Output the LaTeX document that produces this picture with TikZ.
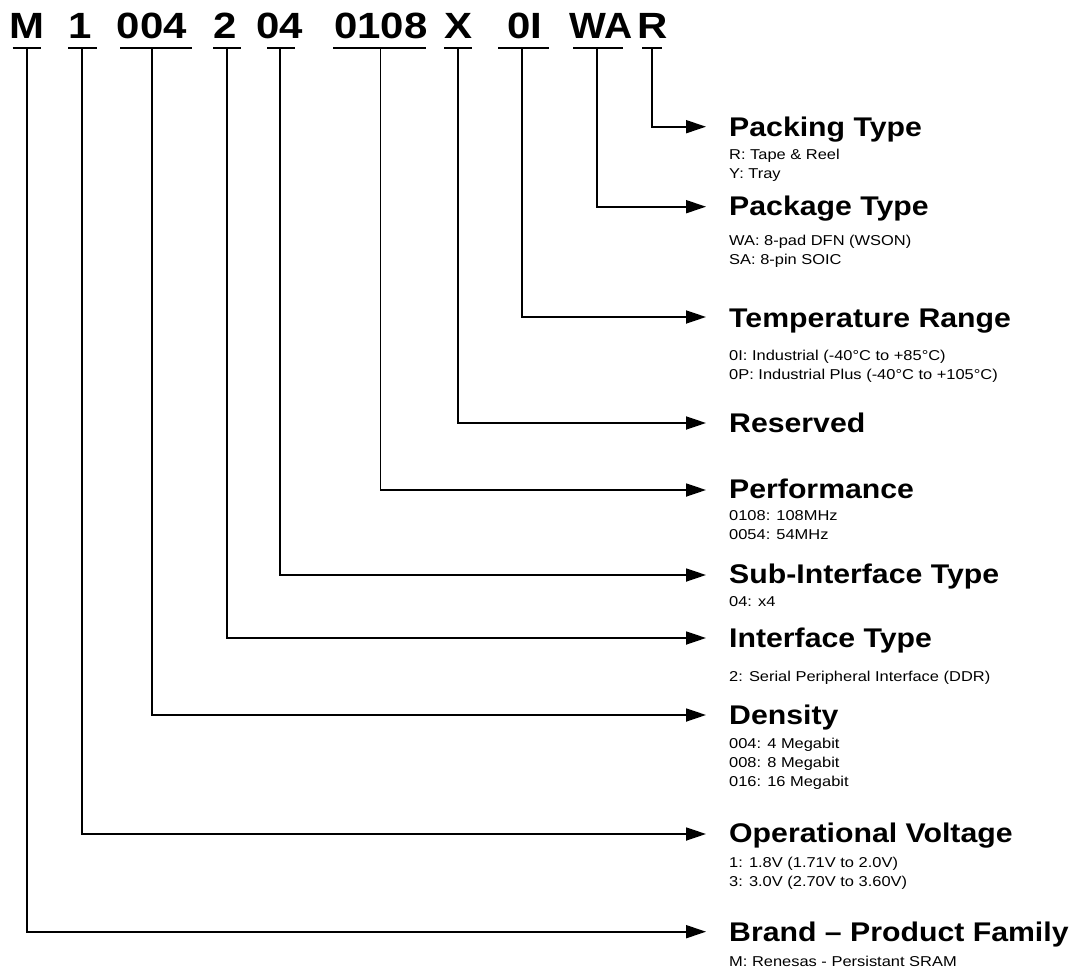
\documentclass[tikz,border=0pt]{standalone}
\usepackage{fontspec}
\setmainfont{Liberation Sans}
\newfontfamily\codefont[FakeStretch=1.15]{Liberation Sans}
\newfontfamily\lblfont[FakeStretch=1.12]{Liberation Sans}
\newfontfamily\subfont[FakeStretch=1.15]{Liberation Sans}
\usetikzlibrary{arrows.meta}
\tikzset{
  code/.style={anchor=base, inner sep=0pt, font=\codefont\bfseries\fontsize{36.5}{40}\selectfont},
  title/.style={anchor=base west, inner sep=0pt, font=\lblfont\bfseries\fontsize{27}{30}\selectfont},
  sub/.style={anchor=base west, inner sep=0pt, font=\subfont\fontsize{14.3}{19}\selectfont},
  uline/.style={line width=2pt},
  conn/.style={line width=1.8pt, -{Triangle[length=20pt,width=13pt]}},
}
\newcommand{\sublines}[1]{\vtop{\baselineskip=19pt\lineskiplimit=-10pt\halign{##\hfil\cr#1\crcr}}}
\begin{document}
\begin{tikzpicture}[x=1pt,y=-1pt]
\useasboundingbox (0,0) rectangle (1072,969);
% code letters
\node[code] (cM) at (27.2,38.3) {M};
\node[code] (c1) at (80.5,38.3) {1};
\node[code] (c004) at (152,38.3) {004};
\node[code] (c2) at (225.5,38.3) {2};
\node[code] (c04) at (279.5,38.3) {04};
\node[code] (c0108) at (381,38.3) {0108};
\node[code] (cX) at (458,38.3) {X};
\node[code] (c0I) at (524.5,38.3) {0I};
\node[code, xscale=0.93, transform shape] (cWA) at (601,38.3) {WA};
\node[code] (cR) at (652.5,38.3) {R};
% underlines
\draw[uline] (12.7,48) -- (40.7,48);
\draw[uline] (68,48) -- (97,48);
\draw[uline] (120,48) -- (192,48);
\draw[uline] (213,48) -- (241,48);
\draw[uline] (267,48) -- (295,48);
\draw[uline] (333,48) -- (426,48);
\draw[uline] (444,48) -- (472,48);
\draw[uline] (498,48) -- (549,48);
\draw[uline] (573,48) -- (623,48);
\draw[uline] (642,48) -- (662,48);
% connector start points
\coordinate (uM) at (26.7,48);
\coordinate (u1) at (82.3,48);
\coordinate (u004) at (151.8,48);
\coordinate (u2) at (227,48);
\coordinate (u04) at (280,48);
\coordinate (u0108) at (380.5,48);
\coordinate (uX) at (457.6,48);
\coordinate (u0I) at (522,48);
\coordinate (uWA) at (597,48);
\coordinate (uR) at (652,48);
% arrow tips
\coordinate (aR) at (706,126.7);
\coordinate (aWA) at (706,206.7);
\coordinate (a0I) at (706,317);
\coordinate (aX) at (706,423);
\coordinate (a0108) at (706,490);
\coordinate (a04) at (706,575);
\coordinate (a2) at (706,638);
\coordinate (a004) at (706,715);
\coordinate (a1) at (706,834);
\coordinate (aM) at (706,931.7);
% titles
\node[title] (tR) at (729,136) {Packing Type};
\node[title] (tWA) at (729,215) {Package Type};
\node[title] (t0I) at (729,327) {Temperature Range};
\node[title] (tX) at (729,432.5) {Reserved};
\node[title] (t0108) at (729,498.5) {Performance};
\node[title] (t04) at (729,583.5) {Sub-Interface Type};
\node[title] (t2) at (729,647.5) {Interface Type};
\node[title] (t004) at (729,724) {Density};
\node[title] (t1) at (729,842.5) {Operational Voltage};
\node[title] (tM) at (729,941.5) {Brand – Product Family};
% sub texts
\node[sub] (sR) at (729,159) {\sublines{R: Tape \& Reel\cr Y: Tray}};
\node[sub] (sWA) at (729,245) {\sublines{WA: 8-pad DFN (WSON)\cr SA: 8-pin SOIC}};
\node[sub] (s0I) at (729,360) {\sublines{0I: Industrial (-40°C to +85°C)\cr 0P: Industrial Plus (-40°C to +105°C)}};
\node[sub] (s0108) at (729,520) {\sublines{0108: 108MHz\cr 0054: 54MHz}};
\node[sub] (s04) at (729,606) {\sublines{04: x4}};
\node[sub] (s2) at (729,681) {\sublines{2: Serial Peripheral Interface (DDR)}};
\node[sub] (s004) at (729,748) {\sublines{004: 4 Megabit\cr 008: 8 Megabit\cr 016: 16 Megabit}};
\node[sub] (s1) at (729,867) {\sublines{1: 1.8V (1.71V to 2.0V)\cr 3: 3.0V (2.70V to 3.60V)}};
\node[sub] (sM) at (729,966.5) {\sublines{M: Renesas - Persistant SRAM}};
% connectors
\draw[conn] (uR) |- (aR);
\draw[conn] (uWA) |- (aWA);
\draw[conn] (u0I) |- (a0I);
\draw[conn] (uX) |- (aX);
\draw[conn] (u0108) |- (a0108);
\draw[conn] (u04) |- (a04);
\draw[conn] (u2) |- (a2);
\draw[conn] (u004) |- (a004);
\draw[conn] (u1) |- (a1);
\draw[conn] (uM) |- (aM);
\end{tikzpicture}
\end{document}
